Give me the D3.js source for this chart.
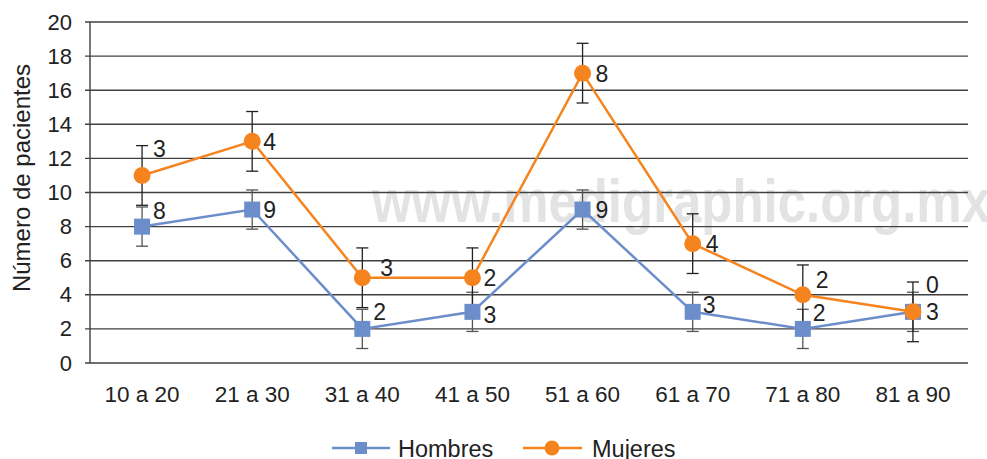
<!DOCTYPE html>
<html lang="es">
<head>
<meta charset="utf-8">
<script src="https://cdn.jsdelivr.net/npm/d3@7"></script>
<style>
  body { margin: 0; background: #fff; }
  svg { display: block; font-family: "Liberation Sans", Arial, Helvetica, sans-serif; }
</style>
</head>
<body>
<script>
// DATA
var categorias = ["10 a 20", "21 a 30", "31 a 40", "41 a 50", "51 a 60", "61 a 70", "71 a 80", "81 a 90"];
var hombres = [8, 9, 2, 3, 9, 3, 2, 3];
var mujeres = [3, 4, 3, 2, 8, 4, 2, 0];          // stacked on top of hombres
var errHombres = 1.15;
var errMujeres = 1.75;
var yTicks = [0, 2, 4, 6, 8, 10, 12, 14, 16, 18, 20];

// label nudges (px)
var nudgeHombres = [[11, -16], [11, 0], [11, -17], [11, 3], [13, 0], [10, -7], [10, -16], [13, 0]];
var nudgeMujeres = [[11, -27], [11, 0], [18, -10], [11, 0], [13, 0], [13, 0], [13, -15], [13, -27]];

var W = 987, H = 459;
var azul = "#6b8ecb", naranja = "#f5841f", gris = "#404040";

var svg = d3.select("body").append("svg")
    .attr("width", W)
    .attr("height", H);

var x = d3.scaleBand().domain(categorias).range([87, 968]);
var y = d3.scaleLinear().domain([0, 20]).range([363, 22]);
var cx = function (d, i) { return x(categorias[i]) + x.bandwidth() / 2; };

var totalMujeres = mujeres.map(function (d, i) { return d + hombres[i]; });

// WATERMARK
svg.append("text")
    .attr("x", 372)
    .attr("y", 222)
    .attr("textLength", 618)
    .attr("lengthAdjust", "spacingAndGlyphs")
    .style("font-size", "62px")
    .style("font-weight", "bold")
    .style("fill", "#e2e3e5")
    .text("www.medigraphic.org.mx");

// GRIDLINES + Y AXIS
svg.append("g")
    .selectAll("line")
    .data(yTicks)
    .join("line")
    .attr("x1", 85)
    .attr("x2", 968)
    .attr("y1", function (d) { return y(d); })
    .attr("y2", function (d) { return y(d); })
    .attr("stroke", gris)
    .attr("stroke-width", 1.4);

svg.append("line")
    .attr("x1", 90).attr("x2", 90)
    .attr("y1", y(20)).attr("y2", y(0))
    .attr("stroke", gris)
    .attr("stroke-width", 1.4);

svg.append("g")
    .selectAll("text")
    .data(yTicks)
    .join("text")
    .attr("x", 72)
    .attr("y", function (d) { return y(d) + 7.5; })
    .attr("text-anchor", "end")
    .style("font-size", "22px")
    .style("fill", "#222")
    .text(function (d) { return d; });

svg.append("text")
    .attr("transform", "translate(30,178) rotate(-90)")
    .attr("text-anchor", "middle")
    .style("font-size", "24px")
    .style("fill", "#222")
    .text("Número de pacientes");

// X LABELS
svg.append("g")
    .selectAll("text")
    .data(categorias)
    .join("text")
    .attr("x", function (d) { return x(d) + x.bandwidth() / 2; })
    .attr("y", 402)
    .attr("text-anchor", "middle")
    .style("font-size", "22.5px")
    .style("fill", "#222")
    .text(function (d) { return d; });

// ERROR BARS
function errorBars(vals, err, color) {
  var g = svg.append("g").attr("stroke", color).attr("stroke-width", 1.3);
  vals.forEach(function (v, i) {
    var px = cx(v, i);
    g.append("line").attr("x1", px).attr("x2", px).attr("y1", y(v - err)).attr("y2", y(v + err));
    g.append("line").attr("x1", px - 6).attr("x2", px + 6).attr("y1", y(v - err)).attr("y2", y(v - err));
    g.append("line").attr("x1", px - 6).attr("x2", px + 6).attr("y1", y(v + err)).attr("y2", y(v + err));
  });
}
errorBars(hombres, errHombres, "#555");
errorBars(totalMujeres, errMujeres, "#222");

// LINES
var line = d3.line()
    .x(function (d, i) { return cx(d, i); })
    .y(function (d) { return y(d); });

svg.append("path")
    .datum(hombres)
    .attr("d", line)
    .attr("fill", "none")
    .attr("stroke", azul)
    .attr("stroke-width", 2.5);

svg.append("path")
    .datum(totalMujeres)
    .attr("d", line)
    .attr("fill", "none")
    .attr("stroke", naranja)
    .attr("stroke-width", 2.5);

// MARKERS
svg.append("g")
    .selectAll("rect")
    .data(hombres)
    .join("rect")
    .attr("x", function (d, i) { return cx(d, i) - 8; })
    .attr("y", function (d) { return y(d) - 8; })
    .attr("width", 16)
    .attr("height", 16)
    .attr("fill", azul);

svg.append("g")
    .selectAll("circle")
    .data(totalMujeres)
    .join("circle")
    .attr("cx", function (d, i) { return cx(d, i); })
    .attr("cy", function (d) { return y(d); })
    .attr("r", 8.5)
    .attr("fill", naranja);

// DATA LABELS
function labels(vals, shown, nudge) {
  svg.append("g")
      .selectAll("text")
      .data(vals)
      .join("text")
      .attr("x", function (d, i) { return cx(d, i) + nudge[i][0]; })
      .attr("y", function (d, i) { return y(d) + nudge[i][1] + 8.5; })
      .style("font-size", "23px")
      .style("fill", "#222")
      .text(function (d, i) { return shown[i]; });
}
labels(hombres, hombres, nudgeHombres);
labels(totalMujeres, mujeres, nudgeMujeres);

// LEGEND
var leg = svg.append("g");
leg.append("line").attr("x1", 332).attr("x2", 390).attr("y1", 448).attr("y2", 448)
    .attr("stroke", azul).attr("stroke-width", 2.5);
leg.append("rect").attr("x", 355).attr("y", 442).attr("width", 12).attr("height", 12).attr("fill", azul);
leg.append("text").attr("x", 398).attr("y", 457).style("font-size", "23.5px").style("fill", "#222").text("Hombres");

leg.append("line").attr("x1", 523).attr("x2", 582).attr("y1", 448).attr("y2", 448)
    .attr("stroke", naranja).attr("stroke-width", 2.5);
leg.append("circle").attr("cx", 552).attr("cy", 448).attr("r", 7.5).attr("fill", naranja);
leg.append("text").attr("x", 592).attr("y", 457).style("font-size", "23.5px").style("fill", "#222").text("Mujeres");
</script>
</body>
</html>
